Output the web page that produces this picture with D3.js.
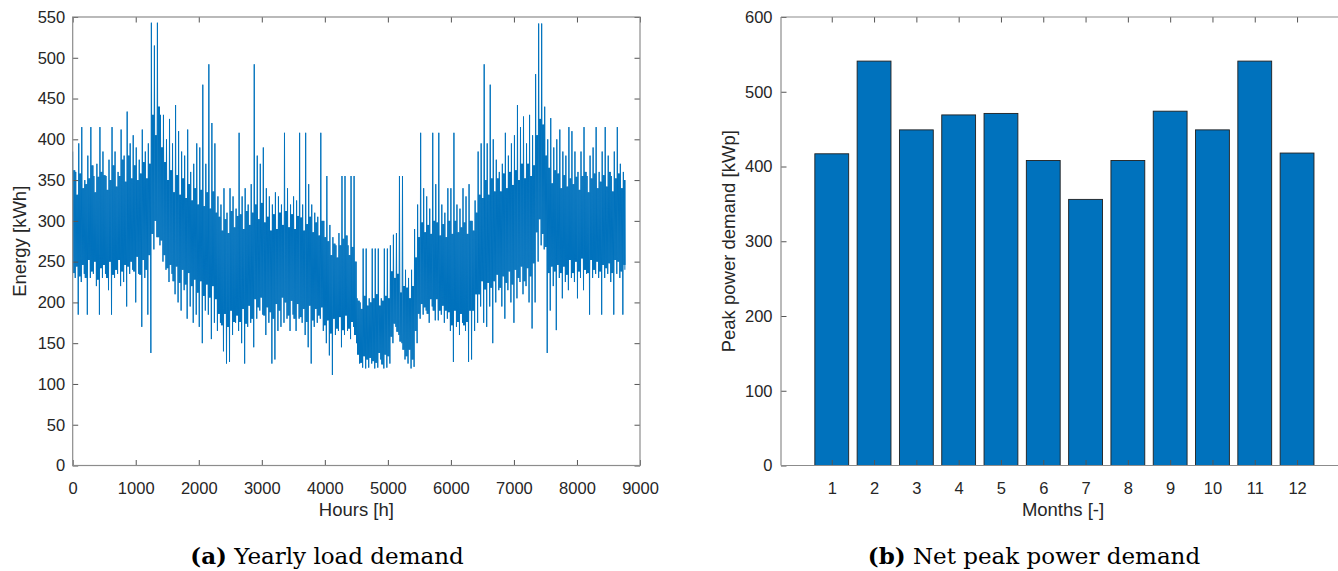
<!DOCTYPE html>
<html>
<head>
<meta charset="utf-8">
<script src="https://cdn.jsdelivr.net/npm/d3@7"></script>
<style>
  html, body { margin: 0; padding: 0; background: #ffffff; }
  svg { display: block; }
  text { font-family: "Liberation Sans", Arial, Helvetica, sans-serif; }
</style>
</head>
<body>
<svg id="chart" width="1338" height="571"></svg>
<script>
// ---------- DATA ----------
// (a) Yearly load demand [kWh], read per 48-hour block
const blockHours = 48;
// highest and lowest hourly value in each block (spikes included)
const loadHi = [
  385,360,395,415,350,380,415,355,370,415,
  385,355,375,415,385,360,412,380,434,395,
  405,390,375,412,385,395,543,515,543,430,
  430,400,425,395,442,410,385,380,412,360,
  370,395,390,467,370,492,420,395,330,320,
  340,310,340,330,315,408,330,340,320,345,
  492,380,370,390,340,330,320,335,330,320,
  408,340,320,330,325,408,320,408,345,320,
  310,305,408,300,355,295,280,270,285,355,
  355,270,355,355,205,200,266,266,205,266,
  266,266,205,266,266,270,283,285,355,355,
  240,230,240,290,320,408,340,330,315,408,
  345,408,320,310,340,340,408,320,315,340,
  330,345,300,325,385,395,492,395,467,400,
  375,360,370,408,380,395,405,442,415,428,
  395,430,405,480,542,542,440,400,426,390,
  400,412,385,380,415,410,385,360,385,415,
  355,380,390,415,360,385,415,380,355,385,
  415,370,360
];
const loadLo = [
  230,185,225,235,185,230,235,220,185,230,
  235,215,185,230,235,220,225,195,235,240,
  200,235,170,230,185,138,265,280,270,250,
  240,225,235,210,200,190,215,180,195,175,
  185,170,150,190,185,155,175,165,175,140,
  125,127,160,175,165,150,125,170,175,145,
  180,190,185,160,175,125,130,165,170,175,
  180,165,185,165,180,175,160,145,125,170,
  175,180,165,150,135,111,160,165,145,160,
  165,155,170,150,125,120,119,120,125,119,
  120,130,119,120,125,150,170,160,150,130,
  125,119,121,150,180,185,190,175,195,178,
  178,185,175,180,165,127,170,160,175,165,
  127,130,165,175,195,175,170,195,150,200,
  215,195,180,215,200,175,205,225,210,220,
  200,168,200,250,270,265,138,190,220,166,
  230,205,225,215,230,225,205,230,215,235,
  185,230,235,230,185,230,235,225,185,235,
  230,185,240
];
// upper and lower edge of the dense core of the band in each block
const coreHi = [
  362,332,358,340,345,352,368,335,354,360,
  356,338,350,368,342,355,375,348,380,352,
  368,350,358,372,352,370,430,405,440,390,
  372,350,362,335,356,332,352,328,345,325,
  340,320,338,318,335,315,336,310,305,288,
  302,285,312,292,306,308,290,312,295,310,
  320,302,322,298,305,288,308,290,310,295,
  312,292,308,290,306,304,288,296,305,286,
  298,282,300,280,275,258,272,255,270,278,
  282,258,268,250,202,192,208,196,200,205,
  210,196,202,208,205,238,230,235,212,220,
  218,205,220,255,280,298,286,295,284,300,
  298,282,296,280,300,284,300,286,292,298,
  284,300,288,310,332,328,350,332,352,336,
  352,336,358,340,360,344,362,350,370,352,
  370,355,368,405,425,418,380,365,346,362,
  358,340,356,342,352,345,354,338,355,360,
  335,352,358,340,348,356,342,360,336,352,
  358,340,350
];
const coreLo = [
  236,244,232,246,230,252,238,250,228,242,
  246,230,250,234,240,252,238,246,244,250,
  238,256,234,252,240,258,284,300,280,276,
  258,242,246,226,244,224,240,222,236,220,
  228,212,226,208,222,206,220,204,186,172,
  186,170,190,176,184,176,192,174,196,180,
  204,194,206,184,194,188,180,198,190,206,
  200,184,202,180,198,182,192,176,196,178,
  192,184,194,172,178,162,180,168,182,166,
  184,168,176,160,136,126,134,130,132,128,
  126,138,124,136,134,158,174,164,152,142,
  134,142,130,165,186,198,194,186,204,190,
  204,190,196,190,188,172,190,176,186,172,
  176,190,190,210,210,226,216,224,218,226,
  234,218,232,224,238,222,240,230,244,226,
  242,232,248,286,302,284,268,236,244,238,
  246,236,244,234,252,236,250,238,254,240,
  236,252,240,250,238,246,242,248,236,252,
  250,238,246
];
const hourTicks = [0,1000,2000,3000,4000,5000,6000,7000,8000,9000];
const energyTicks = [0,50,100,150,200,250,300,350,400,450,500,550];

// (b) Net peak power demand per month [kWp]
const months = [1,2,3,4,5,6,7,8,9,10,11,12];
const peakDemand = [417,541,449,469,471,408,356,408,474,449,541,418];
const peakTicks = [0,100,200,300,400,500,600];

// ---------- STYLE ----------
const blue = "#0072BD";
const axisCol = "#8c8c8c";
const tickCol = "#555555";
const labelCol = "#262626";
const tickFont = 16.5;
const labelFont = 18.5;
const tickLen = 5.5;
const fmt = d3.format("d");

const svg = d3.select("#chart");
svg.append("rect").attr("width",1338).attr("height",571).attr("fill","#fff");

function styleAxis(g, showLabels) {
  g.select(".domain").remove();
  g.selectAll(".tick line").attr("stroke", tickCol).attr("stroke-width", 1);
  g.selectAll(".tick text")
    .attr("fill", labelCol)
    .style("font-size", tickFont + "px")
    .style("font-family", "'Liberation Sans', Arial, sans-serif");
  if (!showLabels) g.selectAll(".tick text").remove();
}

// ---------- (a) ----------
const L = { x0: 72.7, x1: 640, y0: 465.5, y1: 17 };
const xL = d3.scaleLinear().domain([0, 9000]).range([L.x0, L.x1]);
const yL = d3.scaleLinear().domain([0, 550]).range([L.y0, L.y1]);

// trace through each block: extreme high, core swings, extreme low
const pts = [];
loadHi.forEach((v, i) => {
  const h0 = i * blockHours;
  const step = blockHours / 6;
  const seq = [v, coreLo[i], coreHi[i], coreLo[i], coreHi[i], loadLo[i]];
  seq.forEach((val, k) => pts.push([Math.min(h0 + k * step, 8760), val]));
});
const lineGen = d3.line().x(d => xL(d[0])).y(d => yL(d[1]));
svg.append("path")
  .attr("d", lineGen(pts))
  .attr("fill", "none")
  .attr("stroke", blue)
  .attr("stroke-width", 1);

// axes (a)
const gLb = svg.append("g").attr("transform", `translate(0,${L.y0})`)
  .call(d3.axisBottom(xL).tickValues(hourTicks).tickFormat(fmt).tickSizeInner(-tickLen).tickSizeOuter(0).tickPadding(17));
styleAxis(gLb, true);
const gLt = svg.append("g").attr("transform", `translate(0,${L.y1})`)
  .call(d3.axisTop(xL).tickValues(hourTicks).tickSizeInner(-tickLen).tickSizeOuter(0));
styleAxis(gLt, false);
const gLl = svg.append("g").attr("transform", `translate(${L.x0},0)`)
  .call(d3.axisLeft(yL).tickValues(energyTicks).tickFormat(fmt).tickSizeInner(-tickLen).tickSizeOuter(0).tickPadding(7.5));
styleAxis(gLl, true);
const gLr = svg.append("g").attr("transform", `translate(${L.x1},0)`)
  .call(d3.axisRight(yL).tickValues(energyTicks).tickSizeInner(-tickLen).tickSizeOuter(0));
styleAxis(gLr, false);
svg.append("rect")
  .attr("x", L.x0).attr("y", L.y1)
  .attr("width", L.x1 - L.x0).attr("height", L.y0 - L.y1)
  .attr("fill", "none").attr("stroke", axisCol).attr("stroke-width", 1.2);

svg.append("text")
  .attr("x", (L.x0 + L.x1) / 2).attr("y", 516)
  .attr("text-anchor", "middle").attr("fill", labelCol)
  .style("font-size", labelFont + "px").text("Hours [h]");
svg.append("text")
  .attr("transform", `translate(26,${(L.y0 + L.y1) / 2}) rotate(-90)`)
  .attr("text-anchor", "middle").attr("fill", labelCol)
  .style("font-size", labelFont + "px").text("Energy [kWh]");

// ---------- (b) ----------
const R = { x0: 781, y0: 465.5, y1: 17 };
const unit = 42.3;
const xR = d3.scaleLinear().domain([-0.2, 13.2]).range([R.x0, R.x0 + 13.4 * unit]);
const yR = d3.scaleLinear().domain([0, 600]).range([R.y0, R.y1]);
const barW = 0.8;

svg.append("g").selectAll("rect")
  .data(months)
  .join("rect")
  .attr("x", (m) => xR(m - barW / 2))
  .attr("width", (m) => xR(m + barW / 2) - xR(m - barW / 2))
  .attr("y", (m, i) => yR(peakDemand[i]))
  .attr("height", (m, i) => yR(0) - yR(peakDemand[i]))
  .attr("fill", blue)
  .attr("stroke", "#1f1f1f")
  .attr("stroke-width", 0.9);

const gRb = svg.append("g").attr("transform", `translate(0,${R.y0})`)
  .call(d3.axisBottom(xR).tickValues(months).tickFormat(fmt).tickSizeInner(-tickLen).tickSizeOuter(0).tickPadding(17));
styleAxis(gRb, true);
const gRt = svg.append("g").attr("transform", `translate(0,${R.y1})`)
  .call(d3.axisTop(xR).tickValues(months).tickSizeInner(-tickLen).tickSizeOuter(0));
styleAxis(gRt, false);
const gRl = svg.append("g").attr("transform", `translate(${R.x0},0)`)
  .call(d3.axisLeft(yR).tickValues(peakTicks).tickFormat(fmt).tickSizeInner(-tickLen).tickSizeOuter(0).tickPadding(8.5));
styleAxis(gRl, true);
// box lines (right edge lies beyond the picture)
svg.append("line").attr("x1", R.x0).attr("x2", R.x0).attr("y1", R.y1).attr("y2", R.y0)
  .attr("stroke", axisCol).attr("stroke-width", 1.2);
svg.append("line").attr("x1", R.x0).attr("x2", xR(13.2)).attr("y1", R.y0).attr("y2", R.y0)
  .attr("stroke", axisCol).attr("stroke-width", 1.2);
svg.append("line").attr("x1", R.x0).attr("x2", xR(13.2)).attr("y1", R.y1).attr("y2", R.y1)
  .attr("stroke", axisCol).attr("stroke-width", 1.2);

svg.append("text")
  .attr("x", 1063).attr("y", 516)
  .attr("text-anchor", "middle").attr("fill", labelCol)
  .style("font-size", labelFont + "px").text("Months [-]");
svg.append("text")
  .attr("transform", `translate(735,${(R.y0 + R.y1) / 2}) rotate(-90)`)
  .attr("text-anchor", "middle").attr("fill", labelCol)
  .style("font-size", labelFont + "px").text("Peak power demand [kWp]");

// ---------- captions ----------
function caption(x, tag, rest) {
  const t = svg.append("text")
    .attr("x", x).attr("y", 564)
    .attr("text-anchor", "middle").attr("fill", "#000")
    .style("font-family", "'DejaVu Serif', 'Liberation Serif', serif")
    .style("font-size", "23px");
  t.append("tspan").attr("font-weight", "bold").text(tag);
  t.append("tspan").text(" " + rest);
}
caption(327, "(a)", "Yearly load demand");
caption(1034, "(b)", "Net peak power demand");
</script>
</body>
</html>
